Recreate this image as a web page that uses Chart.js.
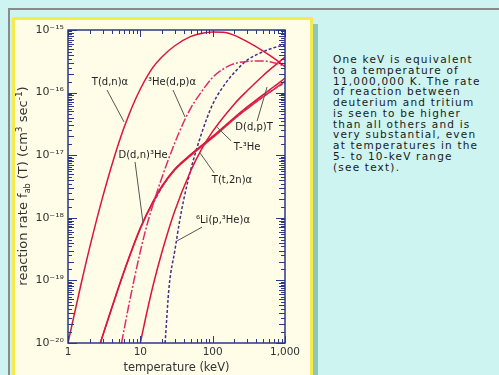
<!DOCTYPE html>
<html>
<head>
<meta charset="utf-8">
<script src="https://cdn.jsdelivr.net/npm/chart.js@4.4.0/dist/chart.umd.min.js"></script>
<style>
  html, body { margin: 0; padding: 0; }
  body { width: 499px; height: 375px; background: #cdf4f0; position: relative; overflow: hidden; font-family: "DejaVu Sans", sans-serif; }
  #frame { position: absolute; left: 8px; top: 8px; width: 500px; height: 400px; border-top: 2px solid #8a8a8a; border-left: 2px solid #8a8a8a; }
  #shadow { position: absolute; left: 313px; top: 24px; width: 5px; height: 360px; background: #8cc7b8; }
  #panel { position: absolute; left: 12px; top: 17px; width: 295px; height: 370px; background: #fffde8; border: 3px solid #f6ea4c; }
  #chartBox { position: absolute; left: 0; top: 0; width: 320px; height: 375px; }
  #note { position: absolute; left: 333px; top: 54px; font-size: 10.5px; letter-spacing: 1.2px; line-height: 10.75px; color: #1a1a1a; white-space: nowrap; }
</style>
</head>
<body>
<div id="frame"></div>
<div id="shadow"></div>
<div id="panel"></div>
<div id="chartBox"><canvas id="rateChart" width="320" height="375"></canvas></div>
<div id="note">One keV is equivalent<br>to a temperature of<br>11,000,000 K. The rate<br>of reaction between<br>deuterium and tritium<br>is seen to be higher<br>than all others and is<br>very substantial, even<br>at temperatures in the<br>5- to 10-keV range<br>(see text).</div>
<script>
// reaction rates (cm^3/sec), temperature in keV
const tempDT = [1, 1.5, 2, 3, 5, 7, 10, 15, 20, 30, 50, 70, 100, 150, 200, 300, 500, 700, 1000];
const rateDT = [1e-20, 8.3e-20, 3.4e-19, 2.1e-18, 1.54e-17, 4.5e-17, 1.14e-16, 2.55e-16, 3.75e-16, 5.6e-16, 7.9e-16, 8.8e-16, 9.3e-16, 9.15e-16, 8.2e-16, 6.5e-16, 4.6e-16, 3.55e-16, 2.6e-16];

const tempDHe3 = [5.5, 7, 10, 12.4, 15, 20, 30, 40, 50, 70, 100, 150, 200, 300, 500, 700, 1000];
const rateDHe3 = [1e-20, 4.25e-20, 2.9e-19, 7.8e-19, 1.64e-18, 4.5e-18, 1.58e-17, 3.43e-17, 5.7e-17, 1.03e-16, 1.75e-16, 2.5e-16, 2.9e-16, 3.15e-16, 3.2e-16, 3.0e-16, 2.65e-16];

const tempDDn = [2.8, 4, 5, 7, 10, 15, 20, 30, 50, 70, 100, 200, 300, 500, 700, 1000];
const rateDDn = [1e-20, 3.6e-20, 7.8e-20, 2.36e-19, 6.9e-19, 1.83e-18, 3.25e-18, 6.0e-18, 1.03e-17, 1.42e-17, 2.0e-17, 4.0e-17, 5.9e-17, 9.3e-17, 1.24e-16, 1.7e-16];

const tempDDp = [2.8, 4, 5, 7, 10, 15, 20, 30, 50, 70, 100, 200, 300, 500, 700, 1000];
const rateDDp = [1e-20, 3.5e-20, 7.6e-20, 2.3e-19, 6.7e-19, 1.78e-18, 3.15e-18, 5.8e-18, 9.9e-18, 1.36e-17, 1.9e-17, 3.8e-17, 5.5e-17, 8.6e-17, 1.13e-16, 1.52e-16];

const tempTHe3 = [15, 20, 30, 50, 70, 100, 200, 300, 500, 700, 1000];
const rateTHe3 = [1.7e-18, 3.1e-18, 5.9e-18, 1.01e-17, 1.4e-17, 1.95e-17, 3.9e-17, 5.6e-17, 8.6e-17, 1.12e-16, 1.45e-16];

const tempTT = [10, 12, 15, 20, 30, 50, 70, 100, 200, 300, 500, 700, 1000];
const rateTT = [1e-20, 2.7e-20, 8.3e-20, 2.9e-19, 1.3e-18, 5.7e-18, 1.24e-17, 2.4e-17, 6.6e-17, 1.07e-16, 1.88e-16, 2.63e-16, 3.7e-16];

const tempLi6 = [22, 25, 30, 35, 40, 50, 70, 100, 150, 200, 300, 500, 700, 1000];
const rateLi6 = [1e-20, 8e-20, 3e-19, 9e-19, 2e-18, 6e-18, 2.2e-17, 6.5e-17, 1.4e-16, 2.1e-16, 3.3e-16, 4.5e-16, 5.2e-16, 5.8e-16];

const xTickValues = [1, 10, 100, 1000];
const xTickLabels = ["1", "10", "100", "1,000"];
const yTickValues = [1e-20, 1e-19, 1e-18, 1e-17, 1e-16, 1e-15];
const yTickLabels = ["10\u207B\u00B2\u2070", "10\u207B\u00B9\u2079", "10\u207B\u00B9\u2078", "10\u207B\u00B9\u2077", "10\u207B\u00B9\u2076", "10\u207B\u00B9\u2075"];

// curve labels: text spot and pointer ends, in data coords
const curveLabels = [
  { text: "T(d,n)\u03B1", at: [3.81, 1.48e-16], from: [3.46, 1.1e-16], to: [5.95, 3.4e-17] },
  { text: "\u00B3He(d,p)\u03B1", at: [27.4, 1.48e-16], from: [28.3, 1.1e-16], to: [41.5, 4.07e-17] },
  { text: "D(d,n)\u00B3He", at: [10.9, 1.0e-17], from: [8.45, 7.8e-18], to: [10.9, 8.3e-19] },
  { text: "D(d,p)T", at: [374, 2.8e-17], from: [411, 3.5e-17], to: [565, 1.23e-16] },
  { text: "T-\u00B3He", at: [299, 1.35e-17], from: [180, 1.69e-17], to: [115, 2.8e-17] },
  { text: "T(t,2n)\u03B1", at: [185, 4.0e-18], from: [105, 5.2e-18], to: [67, 1.08e-17] },
  { text: "\u2076Li(p,\u00B3He)\u03B1", at: [139, 9.2e-19], from: [71.3, 7.1e-19], to: [32.2, 4.27e-19] },
];

const axisColor = "#2b3788";
const red = "#dc143c";

function points(temps, rates) {
  return temps.map((t, i) => ({ x: t, y: rates[i] }));
}

function curve(temps, rates, color, dash) {
  return {
    data: points(temps, rates),
    borderColor: color,
    borderWidth: 1.5,
    borderDash: dash,
    pointRadius: 0,
    fill: false,
    cubicInterpolationMode: "monotone",
  };
}

// frame with inward ticks on all four sides
const frameTicks = {
  id: "frameTicks",
  afterDatasetsDraw(chart) {
    const { ctx, chartArea: a, scales } = chart;
    const x = scales.x, y = scales.y;
    ctx.save();
    ctx.strokeStyle = axisColor;
    ctx.lineWidth = 1;
    ctx.beginPath();
    for (let e = 0; e < 3; e++) {
      for (let m = 1; m <= 10; m++) {
        const px = Math.round(x.getPixelForValue(m * Math.pow(10, e))) + 0.5;
        const len = m === 1 || m === 10 ? 7 : 4;
        ctx.moveTo(px, a.bottom); ctx.lineTo(px, a.bottom - len);
        ctx.moveTo(px, a.top); ctx.lineTo(px, a.top + len);
      }
    }
    for (let e = -20; e < -15; e++) {
      for (let m = 1; m <= 10; m += 0.5) {
        const py = Math.round(y.getPixelForValue(m * Math.pow(10, e))) + 0.5;
        const len = m === 1 || m === 10 ? 9 : (Number.isInteger(m) ? 6 : 4);
        ctx.moveTo(a.left, py); ctx.lineTo(a.left + len, py);
        ctx.moveTo(a.right, py); ctx.lineTo(a.right - len, py);
      }
    }
    ctx.stroke();
    ctx.lineWidth = 1.5;
    ctx.strokeRect(a.left, a.top, a.width, a.height);
    ctx.restore();
  },
};

// curve names with pointer lines
const labelPlugin = {
  id: "labelPlugin",
  afterDatasetsDraw(chart) {
    const { ctx, scales } = chart;
    const x = scales.x, y = scales.y;
    ctx.save();
    ctx.strokeStyle = "#555";
    ctx.lineWidth = 1;
    ctx.fillStyle = "#222";
    ctx.font = "10px 'DejaVu Sans'";
    ctx.textAlign = "center";
    ctx.textBaseline = "middle";
    curveLabels.forEach((l) => {
      ctx.beginPath();
      ctx.moveTo(x.getPixelForValue(l.from[0]), y.getPixelForValue(l.from[1]));
      ctx.lineTo(x.getPixelForValue(l.to[0]), y.getPixelForValue(l.to[1]));
      ctx.stroke();
      ctx.fillText(l.text, x.getPixelForValue(l.at[0]), y.getPixelForValue(l.at[1]));
    });
    ctx.restore();
  },
};

// rotated y title with sub/superscripts
const yTitle = {
  id: "yTitle",
  afterDraw(chart) {
    const { ctx } = chart;
    const parts = [
      { t: "reaction rate f", s: 13, dy: 0 },
      { t: "ab", s: 8, dy: 3 },
      { t: " (T) (cm", s: 13, dy: 0 },
      { t: "3", s: 9, dy: -5 },
      { t: " sec", s: 13, dy: 0 },
      { t: "-1", s: 9, dy: -5 },
      { t: ")", s: 13, dy: 0 },
    ];
    ctx.save();
    ctx.fillStyle = "#333";
    ctx.textBaseline = "alphabetic";
    let total = 0;
    parts.forEach((p) => { ctx.font = p.s + "px 'DejaVu Sans'"; p.w = ctx.measureText(p.t).width; total += p.w; });
    ctx.translate(27, 186);
    ctx.rotate(-Math.PI / 2);
    let cx = -total / 2;
    parts.forEach((p) => { ctx.font = p.s + "px 'DejaVu Sans'"; ctx.fillText(p.t, cx, p.dy); cx += p.w; });
    ctx.restore();
  },
};

const ctx = document.getElementById("rateChart").getContext("2d");
new Chart(ctx, {
  type: "line",
  data: {
    datasets: [
      curve(tempDT, rateDT, red, []),
      curve(tempDHe3, rateDHe3, "#e02a6a", [9, 2, 2, 2]),
      curve(tempDDn, rateDDn, red, []),
      curve(tempDDp, rateDDp, "#e0284e", []),
      curve(tempTHe3, rateTHe3, "#9b3492", [4, 2]),
      curve(tempTT, rateTT, red, []),
      curve(tempLi6, rateLi6, "#4b2c8c", [3, 2]),
    ],
  },
  options: {
    responsive: false,
    animation: false,
    devicePixelRatio: 1,
    layout: { padding: { left: 0, top: 30, right: 35, bottom: 0 } },
    plugins: { legend: { display: false }, tooltip: { enabled: false } },
    scales: {
      x: {
        type: "logarithmic",
        min: 1,
        max: 1000,
        afterFit: (s) => { s.height = 32; },
        afterBuildTicks: (s) => { s.ticks = xTickValues.map((v) => ({ value: v })); },
        grid: { display: false, drawTicks: false },
        border: { display: false },
        ticks: {
          color: "#333",
          font: { family: "DejaVu Sans", size: 10.5 },
          padding: 3,
          maxRotation: 0,
          autoSkip: false,
          callback: (v, i) => xTickLabels[i],
        },
        title: {
          display: true,
          text: "temperature (keV)",
          color: "#333",
          font: { family: "DejaVu Sans", size: 11.5 },
          padding: { top: 0, bottom: 0 },
        },
      },
      y: {
        type: "logarithmic",
        min: 1e-20,
        max: 1e-15,
        afterFit: (s) => { s.width = 68; },
        afterBuildTicks: (s) => { s.ticks = yTickValues.map((v) => ({ value: v })); },
        grid: { display: false, drawTicks: false },
        border: { display: false },
        ticks: {
          color: "#333",
          font: { family: "DejaVu Sans", size: 11 },
          padding: 4,
          autoSkip: false,
          callback: (v, i) => yTickLabels[i],
        },
      },
    },
  },
  plugins: [frameTicks, labelPlugin, yTitle],
});
</script>
</body>
</html>
